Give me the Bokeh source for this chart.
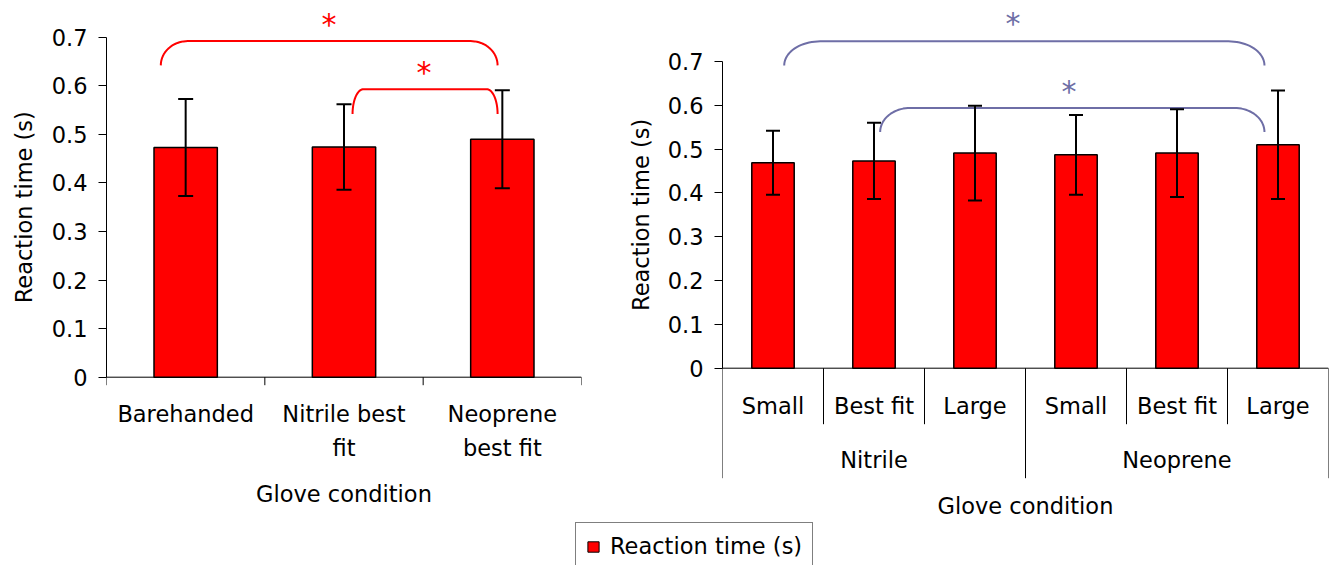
import math

from bokeh.core.properties import value
from bokeh.embed import file_html
from bokeh.layouts import column, row
from bokeh.models import (ColumnDataSource, FixedTicker, Legend, LegendItem,
                          Range1d, TeeHead, Whisker)
from bokeh.plotting import figure
from bokeh.resources import INLINE

# ---------------------------------------------------------------- data ----
LEFT_CATEGORIES = ["Barehanded", "Nitrile best fit", "Neoprene best fit"]
LEFT_LABEL_LINES = [["Barehanded"], ["Nitrile best", "fit"], ["Neoprene", "best fit"]]
LEFT_MEAN = [0.473, 0.474, 0.490]
LEFT_SD = [0.100, 0.088, 0.101]

GLOVE_TYPES = ["Nitrile", "Neoprene"]
GLOVE_SIZES = ["Small", "Best fit", "Large"]
RIGHT_MEAN = [0.469, 0.473, 0.491, 0.487, 0.491, 0.510]
RIGHT_SD = [0.073, 0.087, 0.108, 0.091, 0.100, 0.124]

Y_TICKS = [0, 0.1, 0.2, 0.3, 0.4, 0.5, 0.6, 0.7]
Y_TICK_LABELS = ["0", "0.1", "0.2", "0.3", "0.4", "0.5", "0.6", "0.7"]

X_TITLE = "Glove condition"
Y_TITLE = "Reaction time (s)"
SIG_MARK = "*"

# significance brackets: (start, end, top, foot) and star (x, y), data units
LEFT_BRACKETS = [(0.343, 2.470, 0.692, 0.642), (1.554, 2.470, 0.593, 0.542)]
LEFT_STARS = [(1.406, 0.734), (2.006, 0.635)]
RIGHT_BRACKETS = [(0.611, 5.366, 0.746, 0.691), (1.561, 5.366, 0.594, 0.539)]
RIGHT_STARS = [(2.875, 0.795), (3.430, 0.640)]

# --------------------------------------------------------------- style ----
FONT = "DejaVu Sans"
FS = "22.5px"
BAR_RED = "#FF0000"
LEFT_SIG = "#FF0000"
RIGHT_SIG = "#6E6EA6"
ROW_H = 522
LEGEND_H = 43
LINE_GAP = 33.3


def bare_figure(width, height, x_range, y_range, **borders):
    f = figure(width=width, height=height, x_range=x_range, y_range=y_range,
               x_axis_location=None, y_axis_location=None,
               output_backend="svg", toolbar_location=None,
               min_border_left=borders.get("left", 0),
               min_border_right=borders.get("right", 0),
               min_border_top=0, min_border_bottom=0)
    f.grid.visible = False
    f.outline_line_color = None
    f.background_fill_color = "white"
    f.border_fill_color = "white"
    return f


def make_panel(width, frame_left, frame_right, zero_px, top_px, n):
    """Figure whose frame spans the whole row height; y=0 sits at zero_px."""
    ppu = (zero_px - top_px) / (Y_TICKS[-1] - Y_TICKS[0])
    y_range = Range1d(-(ROW_H - zero_px) / ppu, Y_TICKS[-1] + top_px / ppu)
    p = figure(width=width, height=ROW_H, x_range=Range1d(0, n), y_range=y_range,
               x_axis_location=None, output_backend="svg",
               toolbar_location=None,
               min_border_left=frame_left, min_border_right=width - frame_right,
               min_border_top=0, min_border_bottom=0)
    p.grid.visible = False
    p.outline_line_color = None
    p.background_fill_color = "white"
    p.border_fill_color = "white"

    ax = p.yaxis[0]
    ax.ticker = FixedTicker(ticks=Y_TICKS)
    ax.major_label_overrides = dict(zip(Y_TICKS, Y_TICK_LABELS))
    ax.bounds = (Y_TICKS[0], Y_TICKS[-1])
    ax.axis_line_color = "black"
    ax.major_tick_line_color = "black"
    ax.major_tick_in = 0
    ax.major_tick_out = 8
    ax.minor_tick_line_color = None
    ax.major_label_standoff = 11
    ax.major_label_text_font = FONT
    ax.major_label_text_font_size = FS
    ax.major_label_text_color = "black"

    # x axis baseline
    p.segment(x0=[0], y0=[0], x1=[n], y1=[0], line_color="black", line_width=1)
    return p, ppu


def y_title(width, y_range, center_px):
    """Narrow strip holding the rotated y-axis title, sharing the panel's y range."""
    f = bare_figure(width, ROW_H, Range1d(0, width), y_range)
    f.text(x=[center_px], y=[(Y_TICKS[0] + Y_TICKS[-1]) / 2], text=[Y_TITLE],
           angle=90, angle_units="deg", text_align="center",
           text_baseline="middle", text_color="black",
           text_font=value(FONT), text_font_size=value(FS))
    return f


def draw_bars(p, xs, means, sds, bar_width, cap):
    src = ColumnDataSource(dict(
        x=xs, mean=means,
        upper=[m + s for m, s in zip(means, sds)],
        lower=[m - s for m, s in zip(means, sds)]))
    p.vbar(x="x", top="mean", width=bar_width, source=src,
           fill_color=BAR_RED, line_color="black", line_width=1.5)
    p.add_layout(Whisker(base="x", upper="upper", lower="lower", source=src,
                         level="overlay", line_color="black", line_width=2,
                         upper_head=TeeHead(size=cap, line_color="black", line_width=2),
                         lower_head=TeeHead(size=cap, line_color="black", line_width=2)))


def draw_brackets(p, brackets, stars, color, radii_px, ppu_x):
    for (x0, x1, yt, yf), rpx in zip(brackets, radii_px):
        rx = rpx / ppu_x
        ry = yt - yf
        xs, ys = [], []
        for k in range(21):
            th = math.pi - k * (math.pi / 2) / 20
            xs.append(x0 + rx + rx * math.cos(th))
            ys.append(yf + ry * math.sin(th))
        for k in range(21):
            th = math.pi / 2 - k * (math.pi / 2) / 20
            xs.append(x1 - rx + rx * math.cos(th))
            ys.append(yf + ry * math.sin(th))
        p.line(xs, ys, line_color=color, line_width=2)
    p.text(x=[s[0] for s in stars], y=[s[1] for s in stars],
           text=[SIG_MARK] * len(stars), text_align="center",
           text_baseline="middle", text_color=color, y_offset=4,
           text_font=value(FONT), text_font_size=value("30px"))


def text_row(p, xs, labels, offset):
    p.text(x=xs, y=[0] * len(xs), text=labels, y_offset=offset,
           text_align="center", text_baseline="alphabetic",
           text_color="black", text_font=value(FONT), text_font_size=value(FS))


# ---------------------------------------------------------- left panel ----
nL = len(LEFT_CATEGORIES)
left, ppuL = make_panel(554, 60, 535, 376.7, 36.7, nL)
ppxL = (535 - 60) / nL
posL = [i + 0.5 for i in range(nL)]
draw_bars(left, posL, LEFT_MEAN, LEFT_SD, 0.40, 15)
left.segment(x0=list(range(nL + 1)), y0=[0] * (nL + 1),
             x1=list(range(nL + 1)), y1=[-8 / ppuL] * (nL + 1),
             line_color="black", line_width=1)
for k in range(max(len(l) for l in LEFT_LABEL_LINES)):
    idx = [i for i, l in enumerate(LEFT_LABEL_LINES) if len(l) > k]
    text_row(left, [posL[i] for i in idx], [LEFT_LABEL_LINES[i][k] for i in idx],
             37 + k * LINE_GAP)
text_row(left, [nL / 2], [X_TITLE], 117)
draw_brackets(left, LEFT_BRACKETS, LEFT_STARS, LEFT_SIG, [27, 11], ppxL)
left_title = y_title(46, left.y_range, 23)

# --------------------------------------------------------- right panel ----
nR = len(GLOVE_TYPES) * len(GLOVE_SIZES)
right, ppuR = make_panel(672, 62, 668, 367.7, 61, nR)
ppxR = (668 - 62) / nR
posR = [i + 0.5 for i in range(nR)]
draw_bars(right, posR, RIGHT_MEAN, RIGHT_SD, 0.42, 14)
per = len(GLOVE_SIZES)
short_sep = [b for b in range(nR + 1) if b % per]
long_sep = [b for b in range(nR + 1) if b % per == 0]
right.segment(x0=short_sep, y0=[0] * len(short_sep), x1=short_sep,
              y1=[-56 / ppuR] * len(short_sep), line_color="black", line_width=1)
right.segment(x0=long_sep, y0=[0] * len(long_sep), x1=long_sep,
              y1=[-110 / ppuR] * len(long_sep), line_color="black", line_width=1)
text_row(right, posR, GLOVE_SIZES * len(GLOVE_TYPES), 38)
text_row(right, [g * per + per / 2 for g in range(len(GLOVE_TYPES))], GLOVE_TYPES, 91.7)
text_row(right, [nR / 2], [X_TITLE], 137.5)
draw_brackets(right, RIGHT_BRACKETS, RIGHT_STARS, RIGHT_SIG, [36, 30], ppxR)
right_title = y_title(60, right.y_range, 40)

# -------------------------------------------------------------- legend ----
leg = bare_figure(1332, LEGEND_H, Range1d(0, 1), Range1d(0, 1), left=575)
# legend proxy, kept outside the visible frame
swatch = leg.vbar(x=[-1], top=[1], width=0.5, fill_color=BAR_RED,
                  line_color="black", line_width=1)
leg.add_layout(Legend(items=[LegendItem(label=Y_TITLE, renderers=[swatch])],
                      location="top_left", margin=0, padding=10,
                      glyph_width=14, glyph_height=13, label_standoff=10,
                      border_line_color="black", border_line_width=1,
                      label_text_font=FONT, label_text_font_size=FS,
                      label_text_color="black", background_fill_alpha=1))

layout = column(row(left_title, left, right_title, right), leg)
open("out.html", "w").write(file_html(layout, INLINE))
